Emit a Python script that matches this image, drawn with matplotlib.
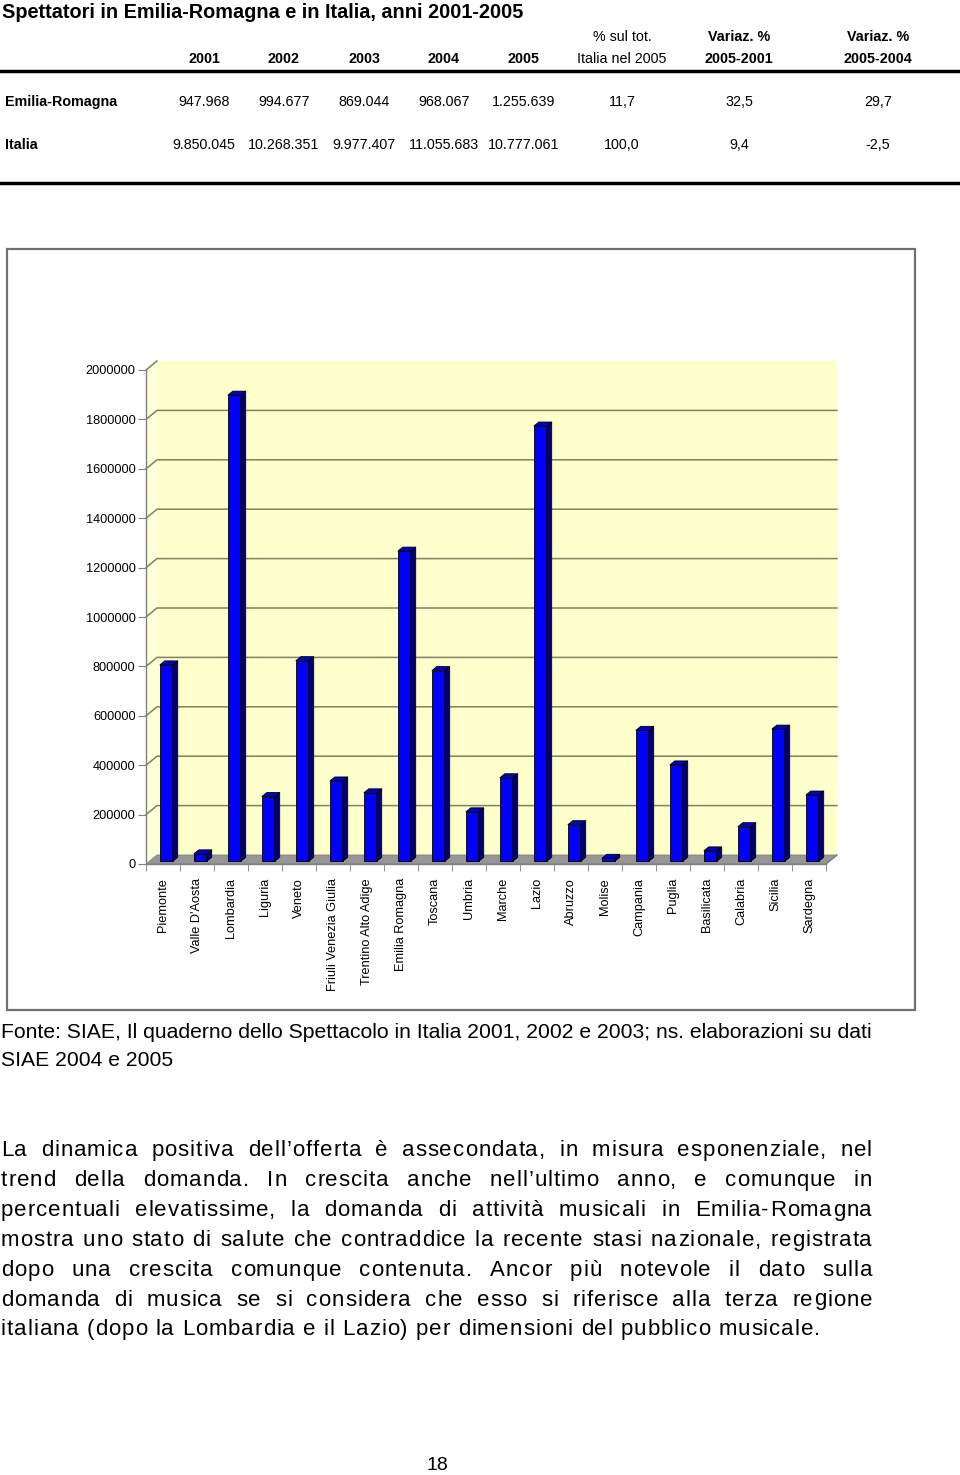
import matplotlib
matplotlib.use('Agg')
import matplotlib.pyplot as plt
from matplotlib.patches import Polygon, Rectangle
from matplotlib.lines import Line2D

W_PX, H_PX = 960, 1475

# table data
years = ['2001', '2002', '2003', '2004', '2005']
row_names = ['Emilia-Romagna', 'Italia']
er_values = ['947.968', '994.677', '869.044', '968.067', '1.255.639', '11,7', '32,5', '29,7']
it_values = ['9.850.045', '10.268.351', '9.977.407', '11.055.683', '10.777.061', '100,0', '9,4', '-2,5']

# chart data (spettatori per regione)
regions = ['Piemonte', "Valle D'Aosta", 'Lombardia', 'Liguria', 'Veneto',
           'Friuli Venezia Giulia', 'Trentino Alto Adige', 'Emilia Romagna',
           'Toscana', 'Umbria', 'Marche', 'Lazio', 'Abruzzo', 'Molise',
           'Campania', 'Puglia', 'Basilicata', 'Calabria', 'Sicilia', 'Sardegna']
spettatori = [795000, 30000, 1887000, 262000, 812000, 325000, 277000, 1255639,
              772000, 200000, 338000, 1762000, 148000, 12000, 530000, 390000,
              42000, 140000, 535000, 268000]
yticks = list(range(0, 2000001, 200000))

paragraph = [
    "La dinamica positiva dell\u2019offerta è assecondata, in misura esponenziale, nel",
    "trend della domanda. In crescita anche nell\u2019ultimo anno, e comunque in",
    "percentuali elevatissime, la domanda di attività musicali in Emilia-Romagna",
    "mostra uno stato di salute che contraddice la recente stasi nazionale, registrata",
    "dopo una crescita comunque contenuta. Ancor più notevole il dato sulla",
    "domanda di musica se si considera che esso si riferisce alla terza regione",
    "italiana (dopo la Lombardia e il Lazio) per dimensioni del pubblico musicale.",
]

plt.rcParams['font.family'] = ['Liberation Sans', 'DejaVu Sans']


def fx(x):
    return x / W_PX


def fy(y):
    return 1 - y / H_PX


fig = plt.figure(figsize=(9.6, 14.75), dpi=100)

# ---- table ----
fig.text(fx(2), fy(12), 'Spettatori in Emilia-Romagna e in Italia, anni 2001-2005',
         fontsize=14.3, fontweight='bold', va='center', ha='left')
col_x = [204, 284, 364, 444, 524, 622, 739, 878]
TS = 10.3
for x, yr in zip(col_x, years):
    fig.text(fx(x), fy(59), yr, fontsize=TS, fontweight='bold', ha='center', va='center')
fig.text(fx(col_x[5]), fy(37), '% sul tot.', fontsize=TS, ha='center', va='center')
fig.text(fx(col_x[5]), fy(59), 'Italia nel 2005', fontsize=TS, ha='center', va='center')
fig.text(fx(col_x[6]), fy(37), 'Variaz. %', fontsize=TS, fontweight='bold', ha='center', va='center')
fig.text(fx(col_x[6]), fy(59), '2005-2001', fontsize=TS, fontweight='bold', ha='center', va='center')
fig.text(fx(col_x[7]), fy(37), 'Variaz. %', fontsize=TS, fontweight='bold', ha='center', va='center')
fig.text(fx(col_x[7]), fy(59), '2005-2004', fontsize=TS, fontweight='bold', ha='center', va='center')
for ypix, name, vals in [(102, row_names[0], er_values), (145, row_names[1], it_values)]:
    fig.text(fx(5), fy(ypix), name, fontsize=TS, fontweight='bold', ha='left', va='center')
    for x, v in zip(col_x, vals):
        fig.text(fx(x), fy(ypix), v, fontsize=TS, ha='center', va='center')
for ypix in [71, 183]:
    fig.add_artist(Line2D([0, 1], [fy(ypix), fy(ypix)], color='black', lw=2.5))

# ---- chart frame ----
fig.add_artist(Rectangle((fx(7), fy(1010)), fx(915 - 7), (1010 - 249) / H_PX,
                         facecolor='white', edgecolor='#707070', lw=1.6, zorder=0))

ax = fig.add_axes([fx(146), fy(864), fx(826 - 146), (864 - 370) / H_PX])
n = len(regions)
ax.set_xlim(-0.5, n - 0.5)
ax.set_ylim(0, 2000000)
ax.patch.set_visible(False)

# depth of the pseudo 3D box, in data units (11 px right, 9 px up)
DX = 11 / ((826 - 146) / n)
DY = 9 / (864 - 370) * 2000000
x0, x1 = -0.5, n - 0.5
top = yticks[-1]

ax.add_patch(Polygon([(x0, 0), (x0 + DX, DY), (x0 + DX, top + DY), (x0, top)],
                     closed=True, facecolor='#FFFFD9', edgecolor='none', zorder=0, clip_on=False))
ax.add_patch(Polygon([(x0 + DX, DY), (x1 + DX, DY), (x1 + DX, top + DY), (x0 + DX, top + DY)],
                     closed=True, facecolor='#FFFFCC', edgecolor='none', zorder=0, clip_on=False))
ax.add_patch(Polygon([(x0, 0), (x1, 0), (x1 + DX, DY), (x0 + DX, DY)],
                     closed=True, facecolor='#969696', edgecolor='#808080', lw=0.6, zorder=1, clip_on=False))
for v in yticks[1:]:
    xs = [x0, x0 + DX] if v == top else [x0, x0 + DX, x1 + DX]
    ys = [v, v + DY] if v == top else [v, v + DY, v + DY]
    ax.plot(xs, ys, color='#808066', lw=1.1, zorder=1, clip_on=False)

# bars with front, side and top faces
d0, d1, bw = 0.3, 0.75, 0.38
for i, v in enumerate(spettatori):
    xc = i + d0 * DX
    b = d0 * DY
    ddx, ddy = (d1 - d0) * DX, (d1 - d0) * DY
    ax.bar(xc, v, width=bw, bottom=b, color='#0000FF', edgecolor='black', lw=0.6, zorder=3)
    xr, xl = xc + bw / 2, xc - bw / 2
    ax.add_patch(Polygon([(xr, b), (xr, b + v), (xr + ddx, b + v + ddy), (xr + ddx, b + ddy)],
                         closed=True, facecolor='#00006E', edgecolor='black', lw=0.6, zorder=3, clip_on=False))
    ax.add_patch(Polygon([(xl, b + v), (xr, b + v), (xr + ddx, b + v + ddy), (xl + ddx, b + v + ddy)],
                         closed=True, facecolor='#0000C8', edgecolor='black', lw=0.6, zorder=3, clip_on=False))

ax.plot([x1, x1 + DX], [0, DY], color='#808080', lw=1, clip_on=False, zorder=2)

for s in ['top', 'right']:
    ax.spines[s].set_visible(False)
for s in ['left', 'bottom']:
    ax.spines[s].set_color('#808080')
    ax.spines[s].set_linewidth(1)
ax.set_yticks(yticks)
ax.set_yticklabels([str(t) for t in yticks], fontsize=9.2)
ax.tick_params(axis='y', length=6, color='#808080', pad=1.5)
ax.set_xticks(range(n))
ax.set_xticklabels(regions, rotation=90, va='top', ha='center', fontsize=9.2)
ax.set_xticks([i - 0.5 for i in range(n + 1)], minor=True)
ax.tick_params(axis='x', which='major', length=0, pad=10)
ax.tick_params(axis='x', which='minor', length=5, color='#808080')

# ---- source note ----
fig.text(fx(1), fy(1032), 'Fonte: SIAE, Il quaderno dello Spettacolo in Italia 2001, 2002 e 2003; ns. elaborazioni su dati',
         fontsize=15.2, ha='left', va='center')
fig.text(fx(1), fy(1060), 'SIAE 2004 e 2005', fontsize=15.2, ha='left', va='center')

# ---- justified paragraph with letter spacing ----
renderer = fig.canvas.get_renderer()
PS = 16
left_px, right_px = 1, 872
char_w = {}


def cw(c):
    if c not in char_w:
        t = fig.text(0, 0, 'x' + c + 'x', fontsize=PS)
        t2 = fig.text(0, 0, 'xx', fontsize=PS)
        char_w[c] = t.get_window_extent(renderer).width - t2.get_window_extent(renderer).width
        t.remove()
        t2.remove()
    return char_w[c]


# tracking chosen so the (unjustified) last line ends near x=820 like the page
last = paragraph[-1]
track = max(0.0, (820 - left_px - sum(cw(c) for c in last)) / (len(last) - 1))

for k, line in enumerate(paragraph):
    ybase = 1156 + k * 29.9
    words = line.split(' ')
    wwidths = [sum(cw(c) + track for c in w) - track for w in words]
    if k == len(paragraph) - 1:
        gap = cw(' ') + 2 * track
    else:
        gap = (right_px - left_px - sum(wwidths)) / (len(words) - 1)
    xpos = left_px
    for w, ww in zip(words, wwidths):
        cx = xpos
        for c in w:
            fig.text(fx(cx), fy(ybase), c, fontsize=PS, ha='left', va='baseline')
            cx += cw(c) + track
        xpos += ww + gap

fig.text(fx(437), fy(1466), '18', fontsize=14, ha='center', va='center')

fig.savefig('out.png', dpi=100)
